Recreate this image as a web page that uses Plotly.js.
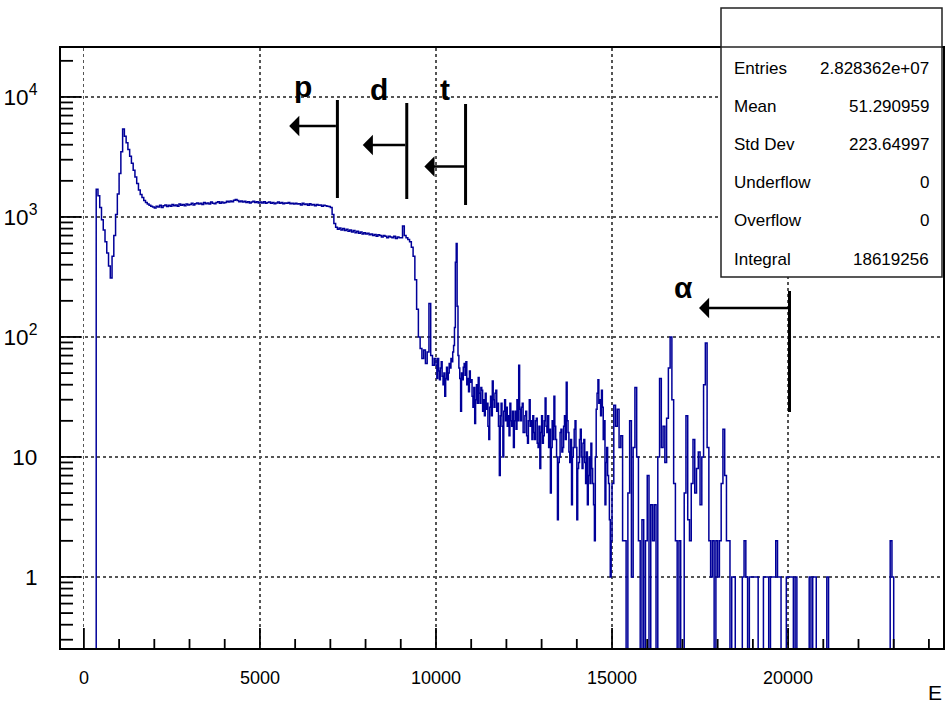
<!DOCTYPE html>
<html>
<head>
<meta charset="utf-8">
<script src="https://cdn.plot.ly/plotly-3.0.1.min.js"></script>
<style>
html,body{margin:0;padding:0;background:#fff;}
#chart{width:945px;height:706px;}
</style>
</head>
<body>
<div id="chart"></div>
<script>
// ---- counts per bin; 0 - 10000 and 15000 - 24000 use 50-wide bins, 10000 - 15000 uses 25-wide bins ----
const coarseWidth = 50;
const fineWidth = 25;

const counts_0_1000      = [0,0,0,0,0,0,0,1700,1500,1200,950,780,620,500,390,310,470,700,1050,1550];
const counts_1000_2000   = [2300,3500,5400,4700,4150,3650,3200,2800,2450,2150,1900,1680,1540,1450,1370,1320,1280,1250,1230,1210];
const counts_2000_3000   = [1190,1230,1210,1250,1200,1240,1260,1220,1250,1230,1270,1240,1260,1230,1280,1250,1270,1240,1280,1260];
const counts_3000_4000   = [1270,1300,1260,1290,1310,1280,1300,1270,1320,1290,1310,1280,1330,1300,1290,1320,1340,1300,1330,1310];
const counts_4000_5000   = [1320,1350,1330,1360,1340,1380,1400,1370,1340,1360,1330,1350,1320,1340,1310,1330,1350,1320,1340,1310];
const counts_5000_6000   = [1330,1310,1340,1300,1320,1330,1300,1320,1290,1310,1330,1300,1320,1290,1310,1300,1320,1290,1300,1280];
const counts_6000_7000   = [1300,1280,1290,1260,1300,1270,1280,1250,1290,1260,1270,1240,1270,1250,1260,1230,1250,1240,1230,1220];
const counts_7000_8000   = [1200,1050,880,820,790,810,780,800,770,790,760,780,750,770,740,760,730,750,720,740];
const counts_8000_9000   = [720,730,710,720,700,715,690,710,700,680,700,690,670,690,680,670,690,660,680,670];
const counts_9000_10000  = [670,840,700,670,650,620,560,470,300,170,100,80,66,78,60,75,190,70,58,66];

const counts_10000_11000 = [58,45,66,52,44,55,62,47,40,50,32,45,56,44,50,60,55,66,62,75,
                            85,120,420,600,180,70,55,45,24,50,44,56,60,48,62,40,45,35,52,42];
const counts_11000_12000 = [44,32,26,38,19,30,40,28,46,34,28,38,36,24,30,22,34,25,28,18,
                            14,26,32,22,43,30,26,34,36,24,28,18,7,22,28,18,10,24,30,20];
const counts_12000_13000 = [26,18,22,15,28,20,18,24,12,20,24,17,30,20,58,25,20,26,28,16,
                            16,22,24,15,13,20,30,18,20,14,22,16,14,20,21,13,12,18,8,16];
const counts_13000_14000 = [22,13,15,20,31,18,16,22,12,17,5,12,20,14,32,18,14,10,3,9,
                            10,16,17,11,12,18,22,14,42,20,16,11,9,14,4,10,12,17,20,12];
const counts_14000_15000 = [3,8,9,14,17,10,8,13,14,9,6,11,4,7,10,6,13,8,6,4,
                            2,10,25,34,44,28,30,22,36,26,14,20,4,9,12,7,6,3,1,2];

const counts_15000_16000 = [6,27,18,25,12,15,2,2,0,5,20,1,12,38,10,2,0,3,0,2];
const counts_16000_17000 = [7,0,4,2,4,0,10,45,12,18,9,21,55,100,30,6,2,0,2,0];
const counts_17000_18000 = [0,5,22,3,2,6,14,5,8,11,4,10,40,89,12,2,1,2,0,2];
const counts_18000_19000 = [1,2,6,17,7,2,2,0,1,1,0,0,0,0,1,2,1,0,1,1];
const counts_19000_20000 = [1,1,1,0,0,0,1,1,1,0,1,1,1,2,1,1,0,0,0,1];
const counts_20000_21000 = [1,1,1,0,1,0,0,0,0,0,0,0,1,0,1,1,0,0,0,0];
const counts_21000_22000 = [0,0,1,0,0,0,0,0,0,0,0,0,0,0,0,0,0,0,0,0];
const counts_22000_23000 = [0,0,0,0,0,0,0,0,0,0,0,0,0,0,0,0,0,0,2,1];
const counts_23000_24000 = [0,0,0,0,0,0,0,0,0,0,0,0,0,0,0,0,0,0,0,0];

// ---- axis ticks / labels ----
const xTickStep = 5000;
const xMinorStep = 1000;
const xAxisTitle = 'E';

// ---- particle cut markers ----
const particleLabels = ['p', 'd', 't', 'α'];
const cutEnergies    = [7200, 9170, 10840, 20040];
const arrowTipEnergy = [5830, 7920, 9670, 17470];

// ---- statistics box ----
const statNames  = ['Entries', 'Mean', 'Std Dev', 'Underflow', 'Overflow', 'Integral'];
const statValues = ['2.828362e+07', '51.290959', '223.64997', '0', '0', '18619256'];

// ================= drawing =================
const segments = [
  {start: 0, width: coarseWidth, counts: [].concat(counts_0_1000, counts_1000_2000, counts_2000_3000,
      counts_3000_4000, counts_4000_5000, counts_5000_6000, counts_6000_7000, counts_7000_8000,
      counts_8000_9000, counts_9000_10000)},
  {start: 10000, width: fineWidth, counts: [].concat(counts_10000_11000, counts_11000_12000,
      counts_12000_13000, counts_13000_14000, counts_14000_15000)},
  {start: 15000, width: coarseWidth, counts: [].concat(counts_15000_16000, counts_16000_17000,
      counts_17000_18000, counts_18000_19000, counts_19000_20000, counts_20000_21000,
      counts_21000_22000, counts_22000_23000, counts_23000_24000)}
];
const EMPTY_FLOOR = 0.01; // empty bins fall below the log-axis floor, as ROOT draws them
const xs = [], ys = [];
let lastEdge = 0;
segments.forEach(seg => {
  seg.counts.forEach((c, i) => {
    xs.push(seg.start + i * seg.width);
    ys.push(c > 0 ? c : EMPTY_FLOOR);
  });
  lastEdge = seg.start + seg.counts.length * seg.width;
});
xs.push(lastEdge);
ys.push(ys[ys.length - 1]);

// plot frame geometry in pixels
const PL = 61, PR = 943, PT = 48, PB = 648;
const W = 945, H = 706;
const PW = PR - PL, PH = PB - PT;
const px2x = p => (p - PL) / PW;
const px2y = p => (PB - p) / PH;

const X_RANGE = [-650, 24400];
const Y_RANGE = [-0.592, 4.408];
const logFrac = v => (Math.log10(v) - Y_RANGE[0]) / (Y_RANGE[1] - Y_RANGE[0]);

const FONT = 'Liberation Sans, Arial, Helvetica, sans-serif';

const trace = {
  x: xs, y: ys, type: 'scatter', mode: 'lines',
  line: {color: '#000099', width: 1.5, shape: 'hv'},
  hoverinfo: 'skip'
};

const shapes = [];
const annotations = [];

// ---- axis tick marks (ROOT style, pointing inward) ----
const TICK_W = 1.8;
const TICK_C = '#000';
for (let v = 0; v <= X_RANGE[1]; v += xMinorStep) {
  const len = (v % xTickStep === 0) ? 20 : 9;
  shapes.push({type: 'line', xref: 'x', yref: 'paper', x0: v, x1: v, y0: 0, y1: len / PH,
    line: {color: TICK_C, width: TICK_W}, layer: 'above'});
}
for (let d = Math.floor(Y_RANGE[0]); d <= Math.ceil(Y_RANGE[1]); d++) {
  for (let k = 1; k <= 9; k++) {
    const v = k * Math.pow(10, d);
    const f = logFrac(v);
    if (f <= 0.002 || f >= 0.998) continue;
    const len = (k === 1) ? 20 : 12;
    shapes.push({type: 'line', xref: 'paper', yref: 'paper', x0: 0, x1: len / PW, y0: f, y1: f,
      line: {color: TICK_C, width: TICK_W}, layer: 'above'});
  }
}

// cut markers: vertical bar, arrow, label
const markerGeom = [
  {top: 100, bot: 198, arrowY: 126, labelX: 6230, labelY: 86},
  {top: 103, bot: 199, arrowY: 145, labelX: 8380, labelY: 89},
  {top: 104, bot: 205, arrowY: 166.5, labelX: 10250, labelY: 89},
  {top: 291, bot: 412, arrowY: 308, labelX: 17030, labelY: 287}
];
particleLabels.forEach((lab, i) => {
  const g = markerGeom[i];
  shapes.push({type: 'line', xref: 'x', yref: 'paper',
    x0: cutEnergies[i], x1: cutEnergies[i], y0: px2y(g.bot), y1: px2y(g.top),
    line: {color: '#000', width: 3}, layer: 'above'});
  annotations.push({xref: 'x', yref: 'paper', x: arrowTipEnergy[i], y: px2y(g.arrowY),
    axref: 'x', ax: cutEnergies[i], ayref: 'pixel', ay: 0,
    text: '', showarrow: true, arrowhead: 1, arrowsize: 1.3, arrowwidth: 2.6, arrowcolor: '#000'});
  annotations.push({xref: 'x', yref: 'paper', x: g.labelX, y: px2y(g.labelY),
    text: '<b>' + lab + '</b>', showarrow: false, xanchor: 'center', yanchor: 'middle',
    font: {family: FONT, size: 30, color: '#000'}});
});

// stats box
const boxL = 721, boxR = 942, boxT = 8, boxSep = 47, boxB = 277;
shapes.push({type: 'rect', xref: 'paper', yref: 'paper',
  x0: px2x(boxL), x1: px2x(boxR), y0: px2y(boxB), y1: px2y(boxT),
  fillcolor: '#fff', line: {color: '#222', width: 1.5}, layer: 'above'});
shapes.push({type: 'line', xref: 'paper', yref: 'paper',
  x0: px2x(boxL), x1: px2x(boxR), y0: px2y(boxSep), y1: px2y(boxSep),
  line: {color: '#222', width: 1.5}, layer: 'above'});
statNames.forEach((name, i) => {
  const yc = 68 + i * 38.2;
  annotations.push({xref: 'paper', yref: 'paper', x: px2x(732), y: px2y(yc),
    text: name, showarrow: false, xanchor: 'left', yanchor: 'middle',
    font: {family: FONT, size: 17, color: '#000'}});
  annotations.push({xref: 'paper', yref: 'paper', x: px2x(931), y: px2y(yc),
    text: statValues[i], showarrow: false, xanchor: 'right', yanchor: 'middle',
    font: {family: FONT, size: 17, color: '#000'}});
});

// x-axis title at the right end
annotations.push({xref: 'paper', yref: 'paper', x: px2x(944), y: px2y(692),
  text: xAxisTitle, showarrow: false, xanchor: 'right', yanchor: 'middle',
  font: {family: FONT, size: 21, color: '#000'}});

const layout = {
  width: W, height: H,
  margin: {l: PL, r: W - PR, t: PT, b: H - PB, pad: 0},
  paper_bgcolor: '#fff', plot_bgcolor: '#fff',
  showlegend: false,
  font: {family: FONT, size: 18, color: '#000'},
  xaxis: {
    range: X_RANGE, tick0: 0, dtick: xTickStep, tickformat: 'd',
    ticks: '', showline: true, linecolor: '#000', linewidth: 2, mirror: true,
    showgrid: true, gridcolor: '#555', griddash: 'dot', gridwidth: 1.2,
    zeroline: false, tickfont: {family: FONT, size: 18, color: '#000'},
    ticklabelstandoff: 12
  },
  yaxis: {
    type: 'log', range: Y_RANGE, tick0: 0, dtick: 1, exponentformat: 'power',
    ticks: '', showline: true, linecolor: '#000', linewidth: 2, mirror: true,
    showgrid: true, gridcolor: '#555', griddash: 'dot', gridwidth: 1.2,
    zeroline: false, tickfont: {family: FONT, size: 18, color: '#000'},
    ticklabelstandoff: 18
  },
  shapes: shapes,
  annotations: annotations
};

Plotly.newPlot('chart', [trace], layout, {staticPlot: true, displayModeBar: false});
</script>
</body>
</html>
